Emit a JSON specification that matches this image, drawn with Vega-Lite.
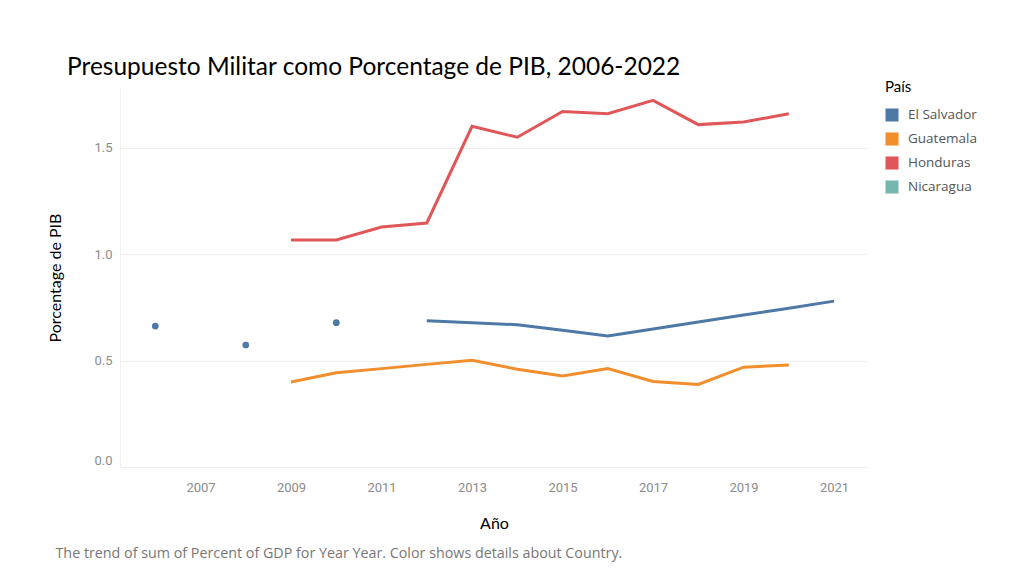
{
  "$schema": "https://vega.github.io/schema/vega-lite/v6.json",
  "width": 748,
  "height": 379,
  "autosize": {"type": "none"},
  "padding": {"left": 120, "top": 88, "right": 143, "bottom": 112},
  "background": "white",
  "title": {
    "text": "Presupuesto Militar como Porcentage de PIB, 2006-2022",
    "anchor": "start",
    "frame": "group",
    "dx": -53,
    "dy": 37,
    "offset": 18,
    "baseline": "alphabetic",
    "font": "Lato",
    "fontSize": 24.5,
    "fontWeight": "normal",
    "color": "#000000"
  },
  "config": {
    "view": {"stroke": null},
    "font": "Roboto"
  },
  "data": {
    "values": [
      {"Country": "El Salvador", "Year": 2006, "Value": 0.662, "seg": "a"},
      {"Country": "El Salvador", "Year": 2008, "Value": 0.573, "seg": "b"},
      {"Country": "El Salvador", "Year": 2010, "Value": 0.678, "seg": "c"},
      {"Country": "El Salvador", "Year": 2012, "Value": 0.687, "seg": "d"},
      {"Country": "El Salvador", "Year": 2013, "Value": 0.678, "seg": "d"},
      {"Country": "El Salvador", "Year": 2014, "Value": 0.668, "seg": "d"},
      {"Country": "El Salvador", "Year": 2015, "Value": 0.642, "seg": "d"},
      {"Country": "El Salvador", "Year": 2016, "Value": 0.615, "seg": "d"},
      {"Country": "El Salvador", "Year": 2017, "Value": 0.648, "seg": "d"},
      {"Country": "El Salvador", "Year": 2018, "Value": 0.681, "seg": "d"},
      {"Country": "El Salvador", "Year": 2019, "Value": 0.714, "seg": "d"},
      {"Country": "El Salvador", "Year": 2020, "Value": 0.746, "seg": "d"},
      {"Country": "El Salvador", "Year": 2021, "Value": 0.779, "seg": "d"},
      {"Country": "Guatemala", "Year": 2009, "Value": 0.399, "seg": "a"},
      {"Country": "Guatemala", "Year": 2010, "Value": 0.443, "seg": "a"},
      {"Country": "Guatemala", "Year": 2011, "Value": 0.462, "seg": "a"},
      {"Country": "Guatemala", "Year": 2012, "Value": 0.482, "seg": "a"},
      {"Country": "Guatemala", "Year": 2013, "Value": 0.501, "seg": "a"},
      {"Country": "Guatemala", "Year": 2014, "Value": 0.459, "seg": "a"},
      {"Country": "Guatemala", "Year": 2015, "Value": 0.427, "seg": "a"},
      {"Country": "Guatemala", "Year": 2016, "Value": 0.462, "seg": "a"},
      {"Country": "Guatemala", "Year": 2017, "Value": 0.402, "seg": "a"},
      {"Country": "Guatemala", "Year": 2018, "Value": 0.388, "seg": "a"},
      {"Country": "Guatemala", "Year": 2019, "Value": 0.469, "seg": "a"},
      {"Country": "Guatemala", "Year": 2020, "Value": 0.479, "seg": "a"},
      {"Country": "Honduras", "Year": 2009, "Value": 1.066, "seg": "a"},
      {"Country": "Honduras", "Year": 2010, "Value": 1.066, "seg": "a"},
      {"Country": "Honduras", "Year": 2011, "Value": 1.127, "seg": "a"},
      {"Country": "Honduras", "Year": 2012, "Value": 1.146, "seg": "a"},
      {"Country": "Honduras", "Year": 2013, "Value": 1.600, "seg": "a"},
      {"Country": "Honduras", "Year": 2014, "Value": 1.549, "seg": "a"},
      {"Country": "Honduras", "Year": 2015, "Value": 1.670, "seg": "a"},
      {"Country": "Honduras", "Year": 2016, "Value": 1.659, "seg": "a"},
      {"Country": "Honduras", "Year": 2017, "Value": 1.722, "seg": "a"},
      {"Country": "Honduras", "Year": 2018, "Value": 1.608, "seg": "a"},
      {"Country": "Honduras", "Year": 2019, "Value": 1.620, "seg": "a"},
      {"Country": "Honduras", "Year": 2020, "Value": 1.659, "seg": "a"}
    ]
  },
  "encoding": {
    "y": {
      "field": "Value",
      "type": "quantitative",
      "scale": {"domain": [0, 1.78], "nice": false, "zero": false},
      "axis": {
        "title": "Porcentage de PIB",
        "values": [0, 0.5, 1.0, 1.5],
        "format": ".1f",
        "labelFlush": true,
        "labelFont": "Roboto",
        "labelFontSize": 13,
        "labelColor": "#8c8c8c",
        "labelPadding": 8,
        "ticks": false,
        "domain": true,
        "domainColor": "#f0f0f0",
        "grid": true,
        "gridColor": "#efefef",
        "gridWidth": 1,
        "titleFont": "Lato",
        "titleFontSize": 16,
        "titleFontWeight": "normal",
        "titleColor": "#000000",
        "titleX": -65,
        "titleBaseline": "middle"
      }
    },
    "color": {
      "field": "Country",
      "type": "nominal",
      "scale": {
        "domain": ["El Salvador", "Guatemala", "Honduras", "Nicaragua"],
        "range": ["#4e79a7", "#f28e2b", "#e15759", "#76b7b2"]
      },
      "legend": {
        "title": "País",
        "orient": "none",
        "legendX": 765,
        "legendY": -8,
        "titleFont": "Lato",
        "titleFontSize": 15,
        "titleFontWeight": "normal",
        "titleColor": "#000000",
        "titlePadding": 13,
        "symbolType": "square",
        "symbolSize": 170,
        "symbolStrokeWidth": 0,
        "symbolOpacity": 1,
        "labelFont": "Open Sans",
        "labelFontSize": 13.5,
        "labelColor": "#555555",
        "labelOffset": 9,
        "rowPadding": 10
      }
    }
  },
  "layer": [
    {
      "mark": {"type": "line", "strokeWidth": 3},
      "encoding": {
        "x": {
          "field": "Year",
          "type": "quantitative",
          "scale": {"domain": [2005.22, 2021.75], "nice": false, "zero": false},
          "axis": {
            "orient": "bottom",
            "title": "Año",
            "values": [2007, 2009, 2011, 2013, 2015, 2017, 2019, 2021],
            "format": "d",
            "labelFont": "Roboto",
            "labelFontSize": 13,
            "labelColor": "#8c8c8c",
            "labelPadding": 14,
            "ticks": false,
            "domain": true,
            "domainColor": "#eeeeee",
            "grid": false,
            "titleFont": "Lato",
            "titleFontSize": 16,
            "titleFontWeight": "normal",
            "titleColor": "#000000",
            "titleY": 56,
            "titleBaseline": "middle"
          }
        },
        "detail": {"field": "seg"}
      }
    },
    {
      "transform": [
        {"joinaggregate": [{"op": "count", "as": "n"}], "groupby": ["Country", "seg"]},
        {"filter": "datum.n == 1"}
      ],
      "mark": {"type": "circle", "size": 45, "opacity": 1},
      "encoding": {
        "x": {
          "field": "Year",
          "type": "quantitative",
          "axis": {
            "orient": "bottom",
            "title": "The trend of sum of Percent of GDP for Year Year.  Color shows details about Country.",
            "labels": false,
            "ticks": false,
            "domain": false,
            "grid": false,
            "titleFont": "Open Sans",
            "titleFontSize": 14.3,
            "titleFontWeight": "normal",
            "titleColor": "#777777",
            "titleAnchor": "start",
            "titleAlign": "left",
            "titleX": -65,
            "titleY": 86,
            "titleBaseline": "middle"
          }
        }
      }
    }
  ],
  "resolve": {"axis": {"x": "independent"}}
}
